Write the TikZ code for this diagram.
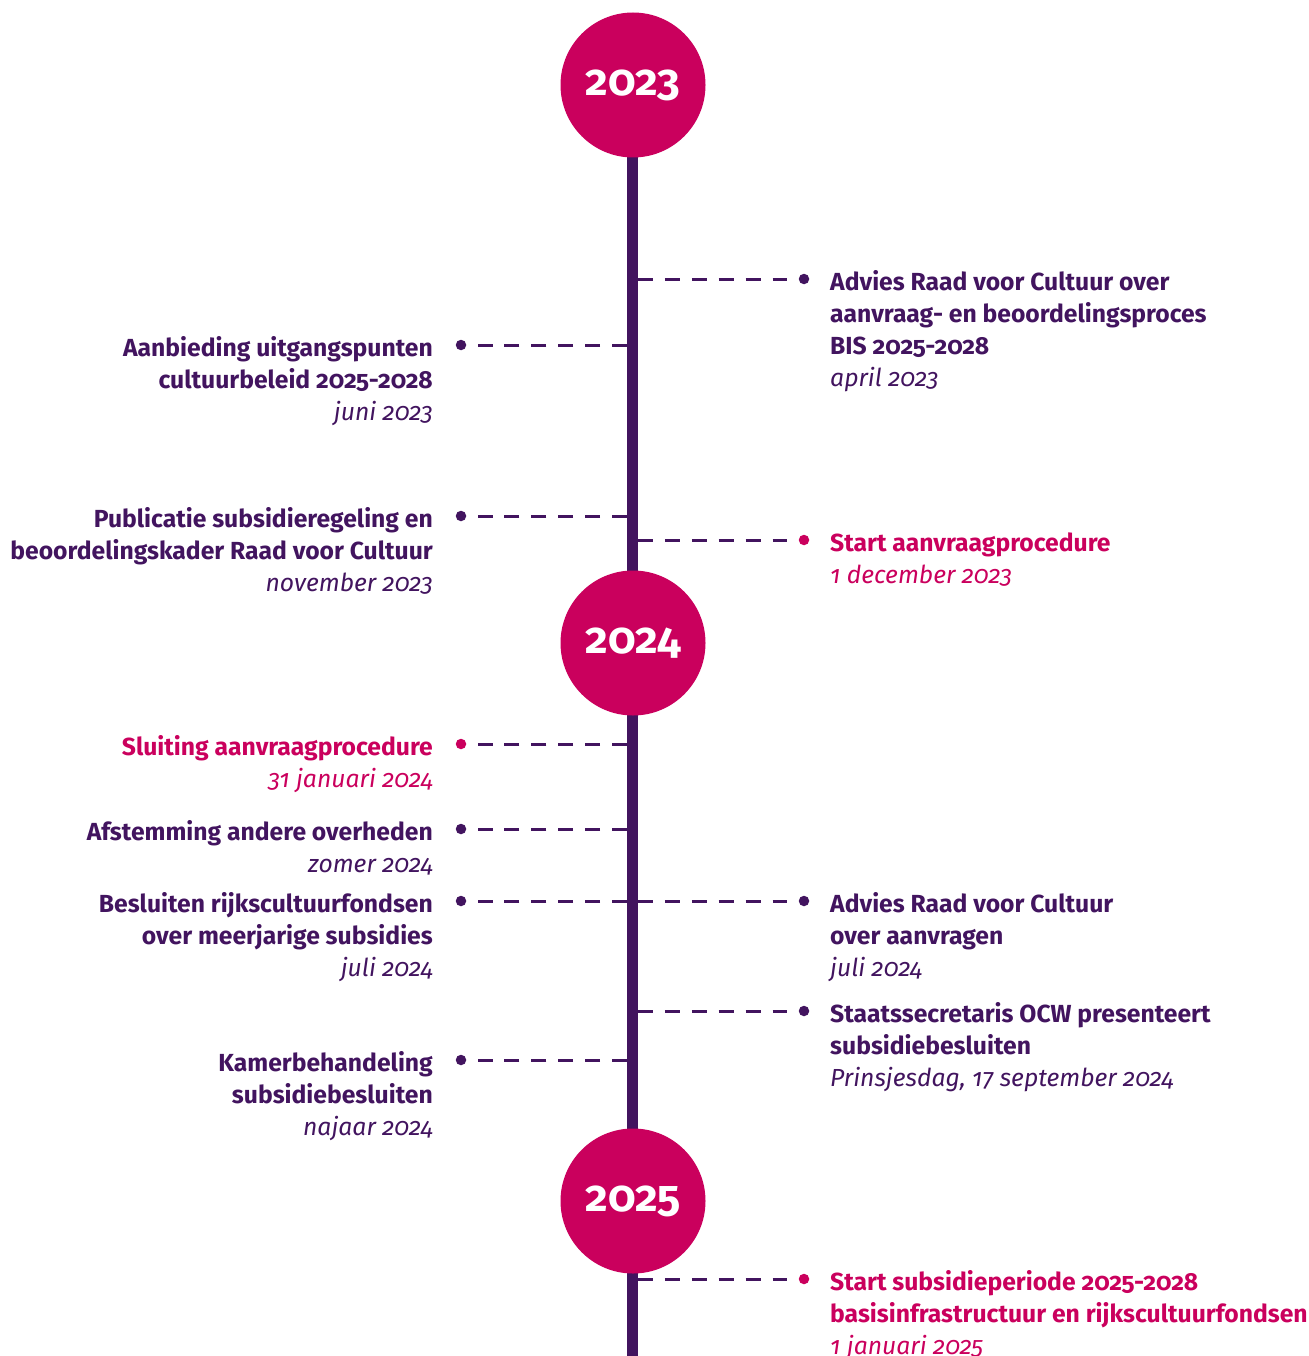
\documentclass[tikz,border=0pt]{standalone}
\usepackage{fontspec}
\setmainfont{Fira Sans}[Numbers={OldStyle,Proportional},RawFeature={+onum}]
\definecolor{mag}{HTML}{CA005D}
\definecolor{pur}{HTML}{42145F}
\newcommand\dt[1]{{\mdseries\itshape #1}}
\begin{document}
\begin{tikzpicture}[x=1pt,y=-1pt,
 year/.style={circle,fill=mag,minimum size=145pt,inner sep=0pt,text=white,font=\fontsize{44}{44}\selectfont\bfseries},
 dot/.style={circle,fill=#1,minimum size=10.5pt,inner sep=0pt},
 conn/.style={draw=pur,line width=3pt,dash pattern=on 15pt off 11.9pt,shorten >=12pt},
 ltxt/.style={anchor=base east,align=right,inner sep=0pt,font=\fontsize{24.7}{32}\selectfont\bfseries,text=#1},
 rtxt/.style={anchor=base west,align=left,inner sep=0pt,font=\fontsize{24.7}{32}\selectfont\bfseries,text=#1},
]
\useasboundingbox (0,0) rectangle (1308,1356);
\coordinate (ltop) at (632.5,85);
\coordinate (lbot) at (632.5,1356);
\draw[pur,line width=10.5pt] (ltop) -- (lbot);
\node[year] (y23) at (633,85) {2023};
\node[year] (y24) at (633,643) {2024};
\node[year] (y25) at (633,1201) {2025};

% right 1
\coordinate (lr1) at (638,279);
\node[dot=pur] (dr1) at (804,279) {};
\draw[conn] (lr1) -- (dr1);
\node[rtxt=pur] (tr1) at (830,386) {Advies Raad voor Cultuur over\\aanvraag- en beoordelingsproces\\BIS 2025-2028\\\dt{april 2023}};
% left 1
\coordinate (ll1) at (627,345);
\node[dot=pur] (dl1) at (461,345) {};
\draw[conn] (ll1) -- (dl1);
\node[ltxt=pur] (tl1) at (433,420) {Aanbieding uitgangspunten\\cultuurbeleid 2025-2028\\\dt{juni 2023}};
% left 2
\coordinate (ll2) at (627,516);
\node[dot=pur] (dl2) at (461,516) {};
\draw[conn] (ll2) -- (dl2);
\node[ltxt=pur] (tl2) at (433,591) {Publicatie subsidieregeling en\\beoordelingskader Raad voor Cultuur\\\dt{november 2023}};
% right 2
\coordinate (lr2) at (638,540);
\node[dot=mag] (dr2) at (804,540) {};
\draw[conn] (lr2) -- (dr2);
\node[rtxt=mag] (tr2) at (830,583) {Start aanvraagprocedure\\\dt{1 december 2023}};
% left 3
\coordinate (ll3) at (627,744);
\node[dot=mag] (dl3) at (461,744) {};
\draw[conn] (ll3) -- (dl3);
\node[ltxt=mag] (tl3) at (433,787) {Sluiting aanvraagprocedure\\\dt{31 januari 2024}};
% left 4
\coordinate (ll4) at (627,829);
\node[dot=pur] (dl4) at (461,829) {};
\draw[conn] (ll4) -- (dl4);
\node[ltxt=pur] (tl4) at (433,872) {Afstemming andere overheden\\\dt{zomer 2024}};
% left 5
\coordinate (ll5) at (627,901);
\node[dot=pur] (dl5) at (461,901) {};
\draw[conn] (ll5) -- (dl5);
\node[ltxt=pur] (tl5) at (433,976) {Besluiten rijkscultuurfondsen\\over meerjarige subsidies\\\dt{juli 2024}};
% right 3
\coordinate (lr3) at (638,901);
\node[dot=pur] (dr3) at (804,901) {};
\draw[conn] (lr3) -- (dr3);
\node[rtxt=pur] (tr3) at (830,976) {Advies Raad voor Cultuur\\over aanvragen\\\dt{juli 2024}};
% right 4
\coordinate (lr4) at (638,1011);
\node[dot=pur] (dr4) at (804,1011) {};
\draw[conn] (lr4) -- (dr4);
\node[rtxt=pur] (tr4) at (830,1086) {Staatssecretaris OCW presenteert\\subsidiebesluiten\\\dt{Prinsjesdag, 17 september 2024}};
% left 6
\coordinate (ll6) at (627,1060);
\node[dot=pur] (dl6) at (461,1060) {};
\draw[conn] (ll6) -- (dl6);
\node[ltxt=pur] (tl6) at (433,1135) {Kamerbehandeling\\subsidiebesluiten\\\dt{najaar 2024}};
% right 5
\coordinate (lr5) at (638,1279);
\node[dot=mag] (dr5) at (804,1279) {};
\draw[conn] (lr5) -- (dr5);
\node[rtxt=mag] (tr5) at (830,1354) {Start subsidieperiode 2025-2028\\basisinfrastructuur en rijkscultuurfondsen\\\dt{1 januari 2025}};
\end{tikzpicture}
\end{document}
